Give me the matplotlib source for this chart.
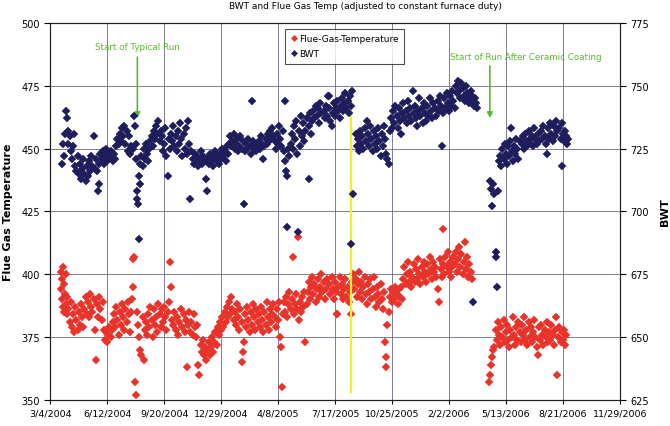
import numpy as np
import matplotlib.pyplot as plt

START = np.datetime64("2004-03-04")

# BWT readings: day offset from 3/4/2004, BWT value (right axis)
bwt_day = [21, 23, 25, 26, 28, 29, 31, 32, 34, 36, 38, 40, 42, 44, 46, 48,
           50, 52, 54, 56, 58, 60, 62, 64, 66, 68, 70, 72, 74, 76, 78, 80, 82, 84, 85, 86, 88,
           90, 92, 94, 96, 98, 100, 102, 104, 106, 108, 110, 112, 114,
           116, 118, 120, 122, 124, 126, 128, 130, 132, 134, 136, 138, 140, 142, 147, 146, 148,
           150, 151, 152, 153, 154, 155, 156, 157, 158, 160, 162, 164, 166, 168, 170, 172, 174,
           176, 178, 180, 182, 184, 186, 188, 190, 192, 194, 196, 198, 200, 202, 204, 206, 208, 210,
           212, 214, 216, 218, 220, 222, 224, 226, 228, 230, 232, 234, 236, 238, 240, 242, 244, 246,
           248, 250, 252, 254, 256, 258, 260, 262, 264, 266, 268, 270, 275, 274, 276, 278, 280, 282,
           284, 286, 288, 290, 292, 294, 296, 298, 300, 302, 304, 306, 308, 310, 312, 314,
           316, 318, 320, 322, 324, 326, 328, 330, 332, 334, 336, 338, 340, 342, 344, 346, 348, 350,
           352, 354, 356, 358, 360, 362, 364, 366, 368, 370, 372, 374, 376, 378, 380, 382, 384, 386,
           388, 390, 392, 394, 396, 398, 400, 402, 404, 406, 408, 410, 412,
           413, 414, 415, 416, 418, 420, 435,
           422, 424, 426, 428, 430, 432, 434, 436, 438, 440, 442, 444, 446, 448, 450, 454, 455, 456, 458, 460,
           462, 464, 466, 468, 470, 472, 474, 476, 489, 480, 482, 484, 486, 488, 490, 492, 494, 496, 498,
           500, 502, 504, 506, 508,
           510, 512, 514, 516, 518, 520, 522, 524, 526, 528, 530, 532, 528,
           536, 538, 540, 542, 544, 546, 548, 550, 552, 554, 556, 558, 560, 562, 564, 566, 568, 570,
           572, 574, 576, 578, 580, 582, 584, 586, 588, 590, 592, 594, 596,
           598, 600, 602, 604, 606, 608, 610, 612, 614, 616, 618,
           620, 622, 624, 626, 628, 630, 632, 634, 637, 638, 640, 642, 644, 646, 648, 650, 652, 654,
           656, 658, 660, 662, 664, 666, 668, 670, 672, 676, 678, 680, 682, 684, 686, 688, 690, 692,
           694, 696, 698, 700, 702, 704, 706, 708, 710,
           712, 714, 716, 718, 720, 722, 724, 726, 728, 730, 732, 734, 736, 738, 740, 742, 744, 746,
           748, 750, 742,
           772, 774, 776, 778, 780, 782, 783, 784, 786,
           788, 790, 792, 794, 796, 798, 800, 802, 804, 806, 808, 810, 812, 814, 816, 818, 820, 822,
           824, 809, 828, 830, 832, 834, 836, 838, 840, 842, 844, 846, 848, 850, 852, 854, 856, 858,
           872, 862, 864, 866, 868, 870, 874, 876, 878, 880, 882, 884, 886, 888, 890, 898, 894, 896,
           899, 900, 902, 904, 906, 908, 910]
bwt_val = [719, 727, 722, 731, 740, 737, 732, 727, 730, 724, 721, 726, 731, 718, 716, 722,
           715, 719, 713, 717, 721, 715, 712, 718, 714, 720, 716, 722, 718, 730, 717, 721, 716, 708, 711, 719, 723,
           721, 724, 719, 722, 725, 720, 723, 721, 724, 722, 720, 723, 721,
           726, 729, 727, 731, 728, 733, 730, 734, 727, 732, 724, 730, 723, 726, 738, 725, 734,
           727, 721, 708, 705, 703, 689, 714, 711, 719, 722, 718, 725, 721, 727, 723, 720, 725,
           728, 730, 726, 732, 729, 734, 731, 736, 728, 732, 730, 724, 727, 733, 722, 714, 729, 725,
           731, 728, 734, 726, 730, 724, 732, 727, 735, 729, 722, 731, 725, 733, 723, 736, 727, 705,
           724, 721, 719, 723, 720, 722, 718, 721, 724, 719, 722, 720, 708, 713, 721, 719, 723, 720,
           722, 718, 721, 724, 720, 722, 719, 723, 721, 725, 722, 724, 720, 726, 723, 727,
           730, 726, 728, 731, 725, 727, 729, 724, 726, 730, 725, 728, 703, 724, 727, 725, 729, 726,
           723, 744, 728, 725, 727, 724, 726, 728, 725, 730, 727, 721, 726, 729, 727, 731, 728, 732,
           729, 733, 730, 728, 725, 731, 727, 734, 729, 726, 732, 724, 744,
           720, 716, 714, 694, 725, 722, 692,
           727, 731, 725, 734, 729, 736, 723, 732, 726, 738, 730, 735, 728, 732, 737, 713, 734, 739, 731, 736,
           740, 737, 742, 738, 741, 735, 743, 739, 746, 740, 737, 742, 738, 746, 741, 736, 734, 739, 743,
           738, 741, 744, 740, 737,
           742, 745, 740, 743, 747, 741, 744, 739, 746, 742, 748, 707, 687,
           731, 726, 729, 724, 732, 727, 730, 725, 733, 728, 736, 731, 726, 734, 729, 724, 732, 727,
           730, 725, 733, 728, 722, 731, 726, 734, 729, 723, 721, 719, 732,
           737, 733, 740, 735, 742, 738, 733, 741, 736, 731, 739,
           743, 737, 740, 735, 744, 738, 741, 736, 748, 739, 742, 737, 734, 740, 745, 738, 741, 735,
           743, 739, 736, 742, 738, 745, 740, 737, 743, 741, 738, 744, 740, 746, 742, 726, 739, 745,
           741, 747, 743, 740, 746, 742, 748, 744, 741,
           750, 747, 752, 748, 745, 751, 749, 746, 744, 750, 747, 745, 743, 748, 746, 744, 742, 745,
           743, 741, 664,
           712, 709, 702, 711, 707, 684, 682, 670, 708,
           720, 722, 718, 725, 721, 727, 723, 719, 726, 722, 728, 724, 720, 726, 723, 729, 725, 721,
           728, 733, 727, 730, 725, 731, 728, 726, 732, 729, 727, 730, 726, 733, 729, 727, 731, 728,
           723, 732, 729, 734, 730, 727, 733, 729, 735, 731, 728, 734, 730, 736, 732, 718, 733, 729,
           735, 731, 728, 732, 730, 727, 729]

# Flue gas temperature readings: day offset, value (left axis)
flue_day = [18, 19, 20, 21, 22, 23, 24, 25, 26, 27, 28, 29, 30,
            32, 34, 36, 38, 40, 42, 44, 46, 48, 50, 52, 54, 56, 58,
            60, 62, 64, 66, 68, 70, 72, 74, 76, 78, 80, 82, 84, 86, 88, 90, 92,
            94, 96, 98, 100, 102, 104, 106, 108, 110,
            112, 114, 116, 118, 120, 122, 124, 126, 128, 130, 132, 134, 136, 138, 140, 142, 144, 145,
            146, 147, 148, 150,
            152, 154, 156, 158, 160, 162, 164, 166,
            168, 170, 172, 174, 176, 178, 180, 182, 184, 186, 188, 190, 192, 194, 196, 198, 200, 202,
            204, 206, 208, 210, 212, 214,
            216, 218, 220, 222, 224, 226, 230, 232, 234, 236, 238, 240, 242, 244, 246, 248, 250, 252,
            254, 256, 258, 260, 262,
            264, 266, 268, 270, 272, 274, 276, 278, 280, 282, 284, 286, 288, 290, 292,
            294, 296, 298, 300, 302, 304, 306, 308, 310, 312, 314, 316, 318, 320, 322,
            324, 326, 328, 330, 332, 334, 336, 337, 339, 340, 342, 344, 346, 348, 350, 352, 354, 356,
            358, 360, 362, 364, 366, 368, 370, 372, 374, 376, 378, 380, 382, 384, 386, 388, 390, 392,
            394, 396, 398, 400, 402,
            404, 406, 407, 426, 435,
            408, 410, 412, 414, 416, 418, 420, 422, 424, 428, 430, 432, 434, 436, 438, 440, 442, 444,
            446, 448, 450,
            452, 454, 456, 458, 460, 462, 464, 466, 468, 470, 472, 474, 476, 478, 480, 482, 484, 486,
            503, 490, 492, 494, 496, 498, 500, 502, 504, 506, 508, 510, 512, 514, 516, 518, 520, 522,
            524, 528, 526, 530,
            532, 534, 536, 538, 540, 542, 544, 546, 548, 550, 552, 554, 556, 558, 560, 562, 564, 566,
            568, 570, 572, 574, 576, 578, 580, 582, 584, 586, 588, 589, 590, 592, 594,
            596, 598, 600, 602, 604, 606, 608, 610, 612, 614, 616, 618,
            620, 622, 624, 626, 628, 630, 632, 634, 636, 638, 640, 642, 644, 646, 648, 650, 652, 654,
            656, 658, 660, 662, 664, 666, 668, 670, 672, 674, 676, 678, 680, 682, 684, 686, 688, 689,
            690, 692, 694, 696, 698, 700, 702, 704, 706, 708,
            710, 712, 714, 716, 718, 720, 722, 724, 726, 728, 730, 732, 734, 736, 738, 740,
            770, 772, 774, 776, 778, 780,
            782, 784, 786, 788, 790, 792, 794, 796, 798, 800, 802, 804, 806, 808, 810, 812, 814, 816,
            818, 820, 822, 824, 826, 828, 830, 832, 834, 836, 838, 840, 842, 844, 846, 848, 850, 852,
            854, 856, 858, 860, 862, 864, 866, 868, 870, 872, 874, 876, 878, 880, 882, 884, 886, 888,
            890, 892, 894, 896, 898, 900, 902, 904, 906]
flue_val = [394, 401, 398, 390, 387, 403, 396, 385, 392, 388, 400, 384, 391,
            386, 381, 389, 379, 384, 377, 387, 382, 378, 385, 380, 388, 383, 379,
            386, 391, 384, 389, 383, 392, 387, 385, 390, 378, 366, 388, 383, 391, 386, 382, 389,
            378, 374, 377, 373, 376, 379, 375, 378, 381,
            384, 379, 387, 382, 376, 385, 380, 388, 383, 378, 386, 381, 389, 384, 377, 385, 390, 395,
            406, 407, 357, 352,
            385, 380, 375, 370, 368, 383, 366, 378,
            381, 376, 384, 379, 387, 382, 375, 386, 380, 383, 377, 388, 384, 379, 386, 381, 387, 383,
            378, 385, 389, 405, 395, 382,
            380, 385, 378, 383, 376, 381, 386, 379, 384, 377, 382, 363, 380, 385, 377, 381, 376, 384,
            379, 375, 380, 364, 360,
            372, 369, 374, 368, 371, 366, 370, 373, 368, 371, 375, 369, 373, 377, 372,
            379, 376, 381, 378, 383, 379, 385, 381, 387, 383, 389, 384, 391, 386, 382,
            385, 380, 388, 383, 378, 386, 381, 365, 369, 373, 384, 379, 387, 382, 377, 385, 380, 388,
            383, 378, 386, 381, 384, 379, 387, 382, 377, 385, 380, 389, 383, 378, 386, 381, 384, 388,
            383, 379, 386, 382, 389,
            375, 371, 355, 407, 415,
            384, 389, 385, 391, 383, 388, 393, 386, 390, 384, 388, 392, 386, 382, 389, 385, 391, 387,
            393, 373, 388,
            393, 397, 390, 395, 399, 392, 396, 389, 394, 398, 391, 395, 400, 393, 397, 390, 394, 398,
            384, 396, 392, 399, 394, 390, 397, 393, 384, 395, 399, 392, 396, 390, 394, 398, 391, 395,
            389, 384, 393, 397,
            400, 394, 398, 391, 396, 401, 393, 397, 390, 395, 399, 392, 388, 396, 393, 398, 390, 394,
            399, 391, 387, 395, 392, 389, 396, 390, 386, 393, 373, 367, 363, 380, 385,
            391, 394, 389, 393, 390, 395, 392, 388, 394, 391, 395, 390,
            398, 403, 396, 400, 405, 397, 401, 395, 399, 404, 397, 402, 398, 406, 400, 396, 403, 399,
            405, 401, 397, 404, 400, 407, 402, 398, 405, 401, 403, 399, 394, 389, 406, 402, 399, 418,
            404, 400, 407, 403, 409, 401, 405, 399, 403, 407,
            404, 409, 401, 406, 411, 403, 408, 400, 405, 413, 402, 407, 399, 404, 401, 398,
            357, 360, 364, 367, 370, 371,
            378, 374, 381, 376, 372, 379, 375, 382, 373, 377, 380, 374, 371, 378, 375, 383, 376, 372,
            379, 374, 381, 377, 373, 380, 376, 383, 374, 378, 372, 381, 375, 379, 373, 377, 382, 375,
            371, 368, 379, 374, 380, 376, 372, 378, 375, 381, 373, 377, 374, 380, 376, 372, 378, 383,
            360, 375, 379, 373, 377, 374, 378, 372, 376]

tick_days = [0, 100, 200, 300, 400, 500, 600, 700, 800, 900, 1000]
tick_labels = ["3/4/2004", "6/12/2004", "9/20/2004", "12/29/2004", "4/8/2005", "7/17/2005",
               "10/25/2005", "2/2/2006", "5/13/2006", "8/21/2006", "11/29/2006"]
run_split_day = 528

RED = "#e8332a"
NAVY = "#1f1d5c"
GREEN = "#5bb832"

fig = plt.figure(figsize=(6.7, 4.27), dpi=100)
ax = fig.add_axes([0.075, 0.061, 0.85, 0.883])
ax2 = ax.twinx()

to_dates = lambda d: START + np.array(d, dtype="timedelta64[D]")

ax.plot(to_dates(flue_day), flue_val, "D", color=RED, ms=4.0, mec=RED, mew=0.3,
        label="Flue-Gas-Temperature", zorder=3)
ax2.plot(to_dates(bwt_day), bwt_val, "D", color=NAVY, ms=4.0, mec=NAVY, mew=0.3,
         label="BWT", zorder=3)

split = to_dates([run_split_day])[0]
ax.plot([split, split], [471, 353], color="#f2ee2a", lw=1.6, zorder=4)

ax.set_xlim(to_dates([0])[0], to_dates([1000])[0])
ax.set_ylim(350, 500)
ax2.set_ylim(625, 775)
ax.set_xticks(to_dates(tick_days))
ax.set_xticklabels(tick_labels, fontsize=6.8)
ax.set_yticks(np.arange(350, 501, 25))
ax2.set_yticks(np.arange(625, 776, 25))
ax.tick_params(axis="y", labelsize=7, length=4, direction="out")
ax2.tick_params(axis="y", labelsize=7, length=4, direction="out")
ax.tick_params(axis="x", length=3, direction="out", pad=3)

ax.grid(True, color="#6a6a80", lw=0.6)
ax.set_axisbelow(True)
ax2.set_zorder(ax.get_zorder() + 1)
ax2.patch.set_visible(False)

ax.set_ylabel("Flue Gas Temperature", fontsize=8, fontweight="bold", labelpad=6)
ax2.set_ylabel("BWT", fontsize=8, fontweight="bold", labelpad=8)
fig.text(0.545, 0.985, "BWT and Flue Gas Temp (adjusted to constant furnace duty)",
         ha="center", va="center", fontsize=6.5)

for a in (ax, ax2):
    for s in a.spines.values():
        s.set_color("#222222")
        s.set_linewidth(0.8)

ax.annotate("", xy=(to_dates([153])[0], 461), xytext=(to_dates([153])[0], 487.5),
            arrowprops=dict(arrowstyle="-|>", color=GREEN, lw=1.2, mutation_scale=8))
ax.text(to_dates([153])[0], 490.5, "Start of Typical Run", color=GREEN, fontsize=6.3,
        ha="center", va="center")
ax.annotate("", xy=(to_dates([772])[0], 461), xytext=(to_dates([772])[0], 484),
            arrowprops=dict(arrowstyle="-|>", color=GREEN, lw=1.2, mutation_scale=8))
ax.text(to_dates([835])[0], 486.5, "Start of Run After Ceramic Coating", color=GREEN,
        fontsize=6.3, ha="center", va="center")

h1, l1 = ax.get_legend_handles_labels()
h2, l2 = ax2.get_legend_handles_labels()
leg = ax2.legend(h1 + h2, l1 + l2, loc="upper left", bbox_to_anchor=(0.404, 0.997),
                 fontsize=6.5, frameon=True, fancybox=False, edgecolor="#222222",
                 handletextpad=0.2, handlelength=0.8, borderpad=0.6, labelspacing=0.7,
                 markerscale=0.8)
leg.get_frame().set_linewidth(0.8)

fig.savefig("out.png", dpi=100)
